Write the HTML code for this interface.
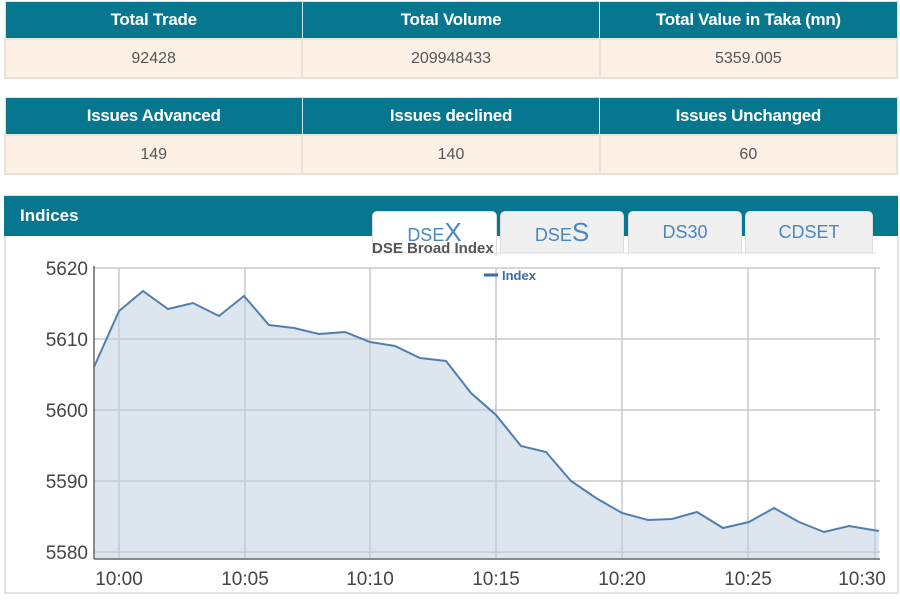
<!DOCTYPE html>
<html><head><meta charset="utf-8"><style>
body{margin:0;width:900px;height:600px;background:#fff;font-family:"Liberation Sans",Arial,sans-serif;position:relative;overflow:hidden}
table{position:absolute;left:4px;width:894px;border-collapse:collapse;table-layout:fixed}
th{background:#06778f;color:#fff;font-size:17px;font-weight:bold;height:36px;border:1px solid #cfe3e8;padding:0;letter-spacing:-0.3px}
td{background:#fdf1e6;color:#555;font-size:16px;text-align:center;height:37px;border:2px solid #e8e2d8;padding:0}
.bar{position:absolute;left:4px;top:195px;width:894px;height:40px;background:#06778f;border-top:1px solid #cfe3e8}
.bar span{position:absolute;left:16px;top:10px;color:#fff;font-weight:bold;font-size:17px}
.box{position:absolute;left:4px;top:236px;width:891px;height:356px;border:2px solid #e3e3e3;border-top:none;background:#fff}
.tab{position:absolute;top:211px;height:41px;background:#efefef;border:1px solid #ddd;border-bottom:none;border-radius:5px 5px 0 0;color:#4a86c0;font-size:18px;text-align:center;line-height:40px}
</style></head><body>
<table style="top:1px"><tr><th>Total Trade</th><th>Total Volume</th><th>Total Value in Taka (mn)</th></tr>
<tr><td>92428</td><td>209948433</td><td>5359.005</td></tr></table>
<table style="top:97px"><tr><th>Issues Advanced</th><th>Issues declined</th><th>Issues Unchanged</th></tr>
<tr><td>149</td><td>140</td><td>60</td></tr></table>
<div class="bar"><span>Indices</span></div>
<div class="box"></div>
<div class="tab" style="left:372px;width:123px;background:#fff;height:44px">DSE<span style="font-size:26px">X</span></div>
<div class="tab" style="left:500px;width:122px">DSE<span style="font-size:26px">S</span></div>
<div class="tab" style="left:628px;width:112px">DS30</div>
<div class="tab" style="left:745px;width:126px">CDSET</div>
<svg width="900" height="600" style="position:absolute;left:0;top:0" font-family="Liberation Sans,Arial,sans-serif">
<line x1="372" y1="253" x2="876" y2="253" stroke="#ddd"/>
<text x="372" y="253" font-size="15" font-weight="bold" fill="#555">DSE Broad Index</text>
<g stroke="#c8c8c8" stroke-width="1.5">
<line x1="94" y1="268" x2="880" y2="268"/><line x1="94" y1="339" x2="880" y2="339"/><line x1="94" y1="410" x2="880" y2="410"/><line x1="94" y1="481" x2="880" y2="481"/><line x1="94" y1="552" x2="880" y2="552"/>
<line x1="119" y1="268" x2="119" y2="559"/><line x1="245" y1="268" x2="245" y2="559"/><line x1="370" y1="268" x2="370" y2="559"/><line x1="496" y1="268" x2="496" y2="559"/><line x1="622" y1="268" x2="622" y2="559"/><line x1="748" y1="268" x2="748" y2="559"/><line x1="875" y1="268" x2="875" y2="559"/>
</g>
<polygon fill="#bccde0" fill-opacity="0.5" points="94,559 94,367 119,311 143,291 168,309 193,303 219,316 244,296 269,325 294,328 319,334 345,332 370,342 395,346 420,358 446,361 471,393 496,415 521,446 546,452 571,481 596,498 622,513 648,520 672,519 697,512 723,528 749,522 774,508 799,522 824,532 849,526 879,531 879,559"/>
<polyline fill="none" stroke="#4f7fb0" stroke-width="2" points="94,367 119,311 143,291 168,309 193,303 219,316 244,296 269,325 294,328 319,334 345,332 370,342 395,346 420,358 446,361 471,393 496,415 521,446 546,452 571,481 596,498 622,513 648,520 672,519 697,512 723,528 749,522 774,508 799,522 824,532 849,526 879,531"/>
<line x1="94" y1="266" x2="94" y2="559" stroke="#666" stroke-width="1.5"/>
<line x1="94" y1="559" x2="880" y2="559" stroke="#666" stroke-width="1.5"/>
<g font-size="19" fill="#444" text-anchor="end"><text x="88" y="275">5620</text><text x="88" y="346">5610</text><text x="88" y="417">5600</text><text x="88" y="488">5590</text><text x="88" y="559">5580</text></g>
<g font-size="19" fill="#444" text-anchor="middle"><text x="119" y="585">10:00</text><text x="245" y="585">10:05</text><text x="370" y="585">10:10</text><text x="496" y="585">10:15</text><text x="622" y="585">10:20</text><text x="748" y="585">10:25</text><text x="862" y="585">10:30</text></g>
<line x1="484" y1="275" x2="498" y2="275" stroke="#3a6ea5" stroke-width="3"/>
<text x="502" y="280" font-size="13" font-weight="bold" fill="#3a6ea5">Index</text>
</svg>
</body></html>
